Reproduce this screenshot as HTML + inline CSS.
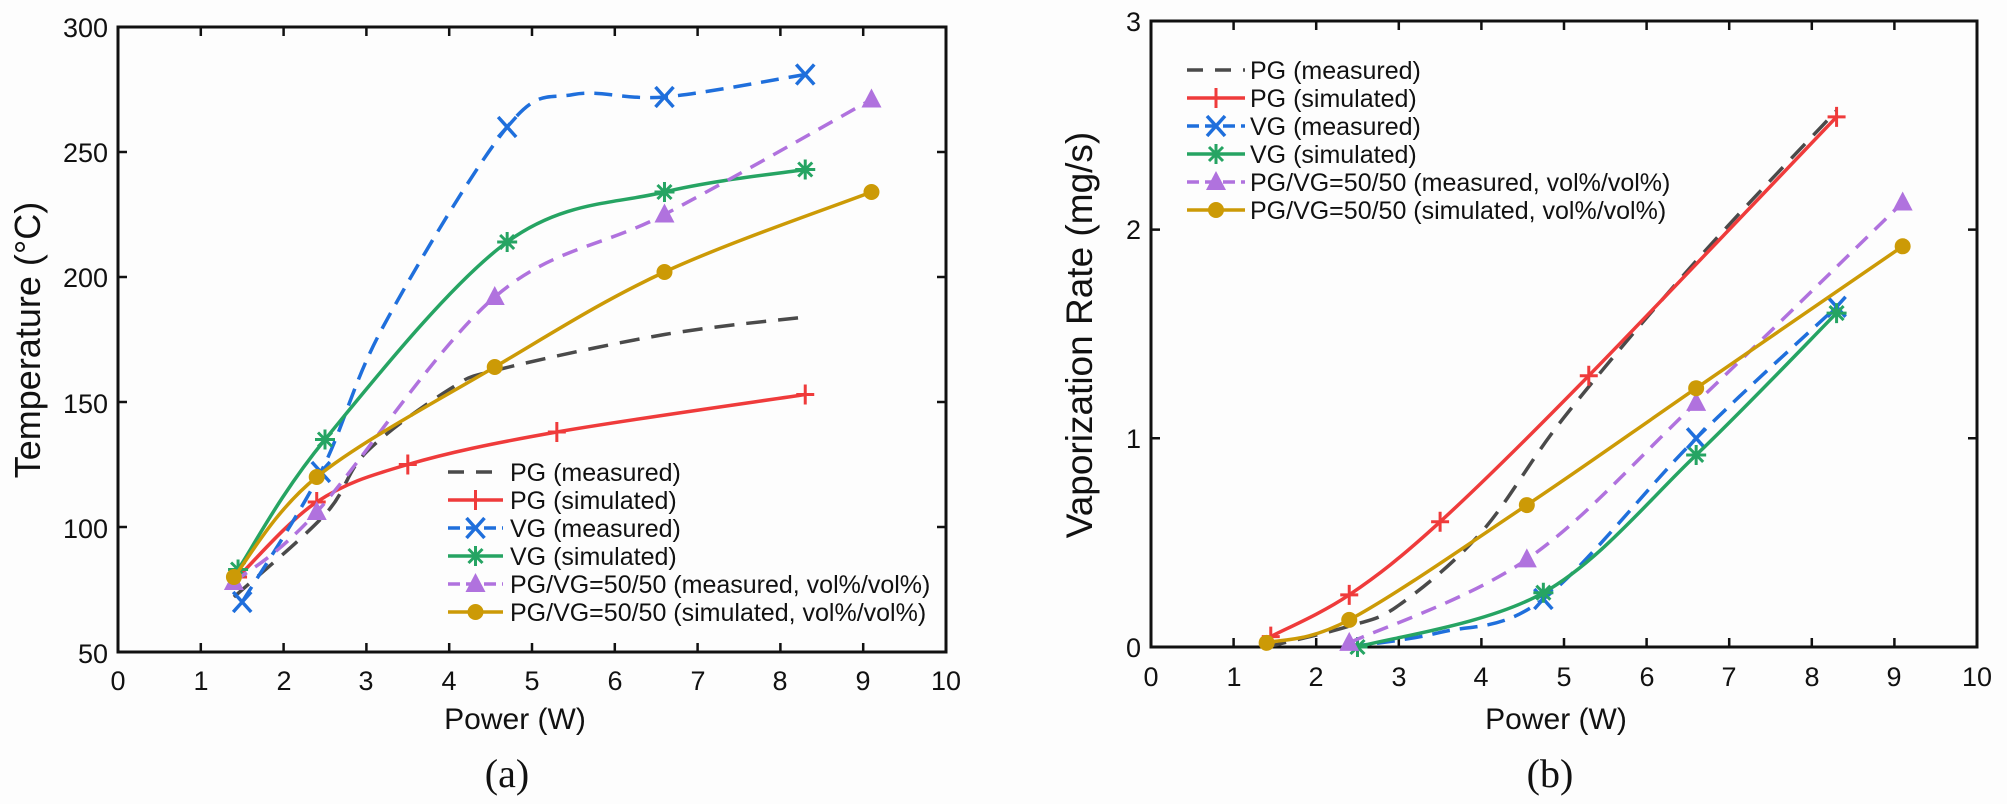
<!DOCTYPE html>
<html><head><meta charset="utf-8"><style>
html,body{margin:0;padding:0;background:#fdfdfd;}
svg{display:block;}
text{font-family:"Liberation Sans",Arial,sans-serif;fill:#111;}
</style></head><body>
<svg id="s" width="2007" height="804" viewBox="0 0 2007 804" xmlns="http://www.w3.org/2000/svg">
<rect width="2007" height="804" fill="#fdfdfd"/>
<g id="plots"></g>
<g font-size="27" text-anchor="end">
<text x="108" y="37">300</text><text x="108" y="162">250</text><text x="108" y="287">200</text><text x="108" y="413">150</text><text x="108" y="538">100</text><text x="108" y="663">50</text>
</g>
<g font-size="27" text-anchor="middle">
<text x="118" y="690">0</text><text x="201" y="690">1</text><text x="284" y="690">2</text><text x="366" y="690">3</text><text x="449" y="690">4</text><text x="532" y="690">5</text><text x="615" y="690">6</text><text x="698" y="690">7</text><text x="780" y="690">8</text><text x="863" y="690">9</text><text x="946" y="690">10</text>
</g>
<text x="515" y="729" font-size="30" text-anchor="middle">Power (W)</text>
<text transform="translate(40,340) rotate(-90)" font-size="36" text-anchor="middle">Temperature (°C)</text>
<text x="507" y="787" font-size="40" text-anchor="middle" style="font-family:'Liberation Serif',serif">(a)</text>
<g font-size="27" text-anchor="end">
<text x="1141" y="31">3</text><text x="1141" y="239">2</text><text x="1141" y="448">1</text><text x="1141" y="657">0</text>
</g>
<g font-size="27" text-anchor="middle">
<text x="1151" y="686">0</text><text x="1234" y="686">1</text><text x="1316" y="686">2</text><text x="1399" y="686">3</text><text x="1481" y="686">4</text><text x="1564" y="686">5</text><text x="1647" y="686">6</text><text x="1729" y="686">7</text><text x="1812" y="686">8</text><text x="1894" y="686">9</text><text x="1977" y="686">10</text>
</g>
<text x="1556" y="729" font-size="30" text-anchor="middle">Power (W)</text>
<text transform="translate(1092,335) rotate(-90)" font-size="37" text-anchor="middle">Vaporization Rate (mg/s)</text>
<text x="1550" y="787" font-size="40" text-anchor="middle" style="font-family:'Liberation Serif',serif">(b)</text>
<g font-size="25">
<text x="510" y="481">PG (measured)</text>
<text x="510" y="509">PG (simulated)</text>
<text x="510" y="537">VG (measured)</text>
<text x="510" y="565">VG (simulated)</text>
<text x="510" y="593">PG/VG=50/50 (measured, vol%/vol%)</text>
<text x="510" y="621">PG/VG=50/50 (simulated, vol%/vol%)</text>
<text x="1250" y="79">PG (measured)</text>
<text x="1250" y="107">PG (simulated)</text>
<text x="1250" y="135">VG (measured)</text>
<text x="1250" y="163">VG (simulated)</text>
<text x="1250" y="191">PG/VG=50/50 (measured, vol%/vol%)</text>
<text x="1250" y="219">PG/VG=50/50 (simulated, vol%/vol%)</text>
</g>
</svg>
<script>
const NS="http://www.w3.org/2000/svg";const G=document.getElementById('plots');
function el(t,a){const e=document.createElementNS(NS,t);for(const k in a)e.setAttribute(k,a[k]);G.appendChild(e);return e;}
const S={pgm:{c:'#4a4a4a',d:'20 12',m:null},pgs:{c:'#ef3b3b',d:null,m:'plus'},vgm:{c:'#1f6fdc',d:'18 10',m:'x'},vgs:{c:'#26a463',d:null,m:'star'},mm:{c:'#b072de',d:'16 10',m:'tri'},ms:{c:'#cc9a06',d:null,m:'dot'}};
function spline(p){let d='M'+p[0][0]+','+p[0][1];for(let i=0;i<p.length-1;i++){const p0=p[i-1]||p[i],p1=p[i],p2=p[i+1],p3=p[i+2]||p2;const t=0.5/3;
d+=' C'+(p1[0]+(p2[0]-p0[0])*t)+','+(p1[1]+(p2[1]-p0[1])*t)+' '+(p2[0]-(p3[0]-p1[0])*t)+','+(p2[1]-(p3[1]-p1[1])*t)+' '+p2[0]+','+p2[1];}return d;}
function marker(k,x,y){const c=S[k].c;const m=S[k].m;
if(m==='plus'){el('path',{d:`M${x-9},${y}H${x+9}M${x},${y-10}V${y+10}`,stroke:c,'stroke-width':3});}
else if(m==='x'){el('path',{d:`M${x-9},${y-10}L${x+9},${y+10}M${x+9},${y-10}L${x-9},${y+10}`,stroke:c,'stroke-width':3.5});}
else if(m==='star'){el('path',{d:`M${x-10},${y}H${x+10}M${x},${y-10}V${y+10}M${x-7},${y-7}L${x+7},${y+7}M${x+7},${y-7}L${x-7},${y+7}`,stroke:c,'stroke-width':3});}
else if(m==='tri'){el('path',{d:`M${x},${y-11}L${x+10},${y+8}L${x-10},${y+8}Z`,fill:c});}
else if(m==='dot'){el('circle',{cx:x,cy:y,r:8,fill:c});}}
function series(k,pts,mk){const s=S[k];const a={d:spline(pts),fill:'none',stroke:s.c,'stroke-width':3.5,'stroke-linecap':'butt'};if(s.d)a['stroke-dasharray']=s.d;el('path',a);
(mk||pts).forEach(p=>marker(k,p[0],p[1]));}
function legend(k,x1,x2,y){const s=S[k];const a={d:`M${x1},${y}H${x2}`,stroke:s.c,'stroke-width':3.5};if(s.d)a['stroke-dasharray']=k==='pgm'?'16 12':'12 6';el('path',a);marker(k,(x1+x2)/2,y);}
function axes(x0,y0,x1,y1,xt,yt){el('rect',{x:x0,y:y0,width:x1-x0,height:y1-y0,fill:'none',stroke:'#111','stroke-width':3});
xt.forEach(x=>{el('path',{d:`M${x},${y1}v-9M${x},${y0}v9`,stroke:'#111','stroke-width':2.5});});
yt.forEach(y=>{el('path',{d:`M${x0},${y}h9M${x1},${y}h-9`,stroke:'#111','stroke-width':2.5});});}
const LX=w=>118+82.8*w, LY=t=>652-2.5*(t-50);
const L=a=>a.map(p=>[LX(p[0]),LY(p[1])]);
let xt=[];for(let i=0;i<=10;i++)xt.push(LX(i));let yt=[];for(let t=50;t<=300;t+=50)yt.push(LY(t));
axes(118,27,946,652,xt,yt);
series('pgm',L([[1.4,72],[2.5,105],[3,130],[4,155],[4.6,163],[6.6,177],[8.3,184]]),[]);
series('pgs',L([[1.45,80],[2.4,110],[3.5,125],[5.3,138],[8.3,153]]));
series('vgm',L([[1.5,70],[2.45,122],[3.2,180],[4.7,260],[5.5,273],[6.6,272],[8.3,281]]),L([[1.5,70],[2.45,122],[4.7,260],[6.6,272],[8.3,281]]));
series('vgs',L([[1.45,83],[2.5,135],[4.7,214],[6.6,234],[8.3,243]]));
series('mm',L([[1.4,78],[2.4,106],[4.55,192],[6.6,225],[9.1,271]]));
series('ms',L([[1.4,80],[2.4,120],[4.55,164],[6.6,202],[9.1,234]]));
['pgm','pgs','vgm','vgs','mm','ms'].forEach((k,i)=>legend(k,448,503,472+28*i));
const RX=w=>1151+82.6*w, RY=v=>647-208.7*v;
const R=a=>a.map(p=>[RX(p[0]),RY(p[1])]);
xt=[];for(let i=0;i<=10;i++)xt.push(RX(i));yt=[];for(let v=0;v<=3;v++)yt.push(RY(v));
axes(1151,21,1977,647,xt,yt);
series('pgm',R([[1.4,0],[2.4,0.1],[3,0.2],[4,0.55],[5,1.1],[6.6,1.85],[8.3,2.57]]),[]);
series('pgs',R([[1.45,0.05],[2.4,0.25],[3.5,0.6],[5.3,1.3],[8.3,2.54]]));
series('vgm',R([[2.4,0],[3.5,0.07],[4.75,0.23],[6.6,1.0],[8.3,1.63]]),R([[4.75,0.23],[6.6,1.0],[8.3,1.63]]));
series('vgs',R([[2.5,0],[4.75,0.26],[6.6,0.92],[8.3,1.6]]));
series('mm',R([[2.4,0.02],[4.55,0.42],[6.6,1.17],[9.1,2.13]]));
series('ms',R([[1.4,0.02],[2.4,0.13],[4.55,0.68],[6.6,1.24],[9.1,1.92]]));
['pgm','pgs','vgm','vgs','mm','ms'].forEach((k,i)=>legend(k,1187,1245,70+28*i));
</script>
</body></html>
